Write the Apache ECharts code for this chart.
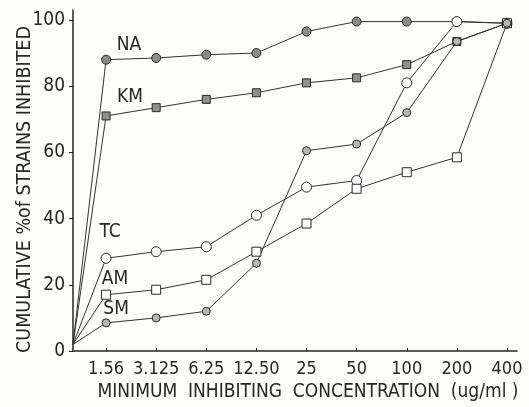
<!DOCTYPE html>
<html><head><meta charset="utf-8">
<script src="https://cdn.jsdelivr.net/npm/echarts@6/dist/echarts.min.js"></script>
<style>html,body{margin:0;padding:0;background:#fdfdfc;}#c{width:529px;height:407px;}</style>
</head><body><div id="c"></div>
<script>
const xLabels = ['1.56','3.125','6.25','12.50','25','50','100','200','400'];
const xPositions = [1,2,3,4,5,6,7,8,9];
const originX = 0.34;
const originY = 2;
const yTicks = [0,20,40,60,80,100];
const seriesNames = ['NA','KM','TC','AM','SM'];
const NA = [88, 88.5, 89.5, 90, 96.5, 99.5, 99.5, 99.5, 99];
const KM = [71, 73.5, 76, 78, 81, 82.5, 86.5, 93.5, 99];
const TC = [28, 30, 31.5, 41, 49.5, 51.5, 81, 99.5, 99];
const AM = [17, 18.5, 21.5, 30, 38.5, 49, 54, 58.5, 99];
const SM = [8.5, 10, 12, 26.5, 60.5, 62.5, 72, 93.5, 99];

const FONT = "'Liberation Sans Narrow','DejaVu Sans Condensed','Liberation Sans',sans-serif";
const INK = '#262626';

const styles = {
  NA: {symbol:'circle', size:9, fill:'#8a8a8a', off:[23,-15]},
  KM: {symbol:'rect', size:8, fill:'#8f8f8f', off:[24,-19]},
  TC: {symbol:'circle', size:10, fill:'#ffffff', off:[4,-26]},
  AM: {symbol:'rect', size:9, fill:'#ffffff', off:[9,-16]},
  SM: {symbol:'circle', size:8, fill:'#b5b5b5', off:[10,-14]}
};
const values = {NA, KM, TC, AM, SM};

function build(name){
  const st = styles[name];
  const vals = values[name];
  const data = [{value:[originX, originY], symbol:'none'}];
  vals.forEach((v,i)=>{
    const item = {value:[xPositions[i], v]};
    if(i===0){
      item.label = {show:true, formatter:name, position:'inside', offset:st.off,
        color:INK, fontSize:19, fontFamily:FONT};
    }
    data.push(item);
  });
  return {
    type:'line', name, data, symbol:st.symbol, symbolSize:st.size, showAllSymbol:true,
    lineStyle:{color:'#333', width:1},
    itemStyle:{color:st.fill, borderColor:'#2a2a2a', borderWidth:1},
    label:{show:false}, animation:false, z: 3
  };
}

const chart = echarts.init(document.getElementById('c'));
chart.setOption({
  backgroundColor:'#fdfdfc',
  animation:false,
  grid:{left:73, right:12, top:10, bottom:56},
  xAxis:{
    type:'value', min:originX, max:9.2,
    splitLine:{show:false},
    axisLine:{lineStyle:{color:INK, width:1.5}},
    axisTick:{customValues:xPositions, inside:true, length:3, lineStyle:{color:INK}},
    axisLabel:{customValues:xPositions, formatter:v=>xLabels[Math.round(v)-1], color:INK,
      fontSize:18, fontFamily:FONT, margin:9},
    name:'MINIMUM  INHIBITING  CONCENTRATION  (ug/ml )', nameLocation:'middle', nameGap:32,
    nameTextStyle:{color:INK, fontSize:19, fontFamily:FONT, padding:[0,0,0,26]}
  },
  yAxis:{
    type:'value', min:0, max:103,
    splitLine:{show:false},
    axisLine:{show:true, lineStyle:{color:INK, width:1.5}},
    axisTick:{show:true, customValues:yTicks, length:4, lineStyle:{color:INK}},
    axisLabel:{customValues:yTicks, color:INK, fontSize:19, fontFamily:FONT, margin:8},
    name:'CUMULATIVE %of STRAINS INHIBITED', nameLocation:'middle', nameGap:38,
    nameMoveOverlap:false,
    nameRotate:90,
    nameTextStyle:{color:INK, fontSize:19.5, fontFamily:FONT, padding:[0,18,0,0]}
  },
  series: seriesNames.map(build)
});
</script></body></html>
